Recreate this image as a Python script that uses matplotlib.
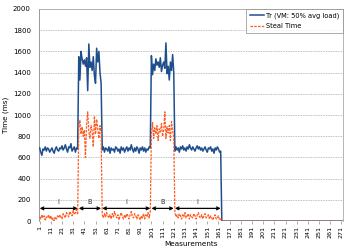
import matplotlib
matplotlib.use("Agg")
import matplotlib.pyplot as plt
import numpy as np

# Step 1: Data
# Tr (VM: 50% avg load), measurements 1..163, then flat at 0
tr_idle1 = [690, 650, 620, 680, 670, 700, 660, 690, 680, 650, 670, 690, 660, 640, 680, 700, 670, 660,
            690, 680, 710, 670, 690, 720, 680, 650, 700, 690, 730, 660, 680, 700, 650, 690, 680]
tr_busy1 = [1550, 1330, 1600, 1530, 1480, 1520, 1460, 1540, 1230, 1670, 1450, 1500, 1420, 1550,
            1370, 1300, 1630, 1500, 1600, 1400, 1300]
tr_idle2 = [670, 700, 650, 690, 680, 660, 700, 640, 690, 670, 680, 650, 700, 690, 660, 680, 640, 700,
            670, 690, 650, 680, 700, 660, 690, 670, 720, 680, 650, 690, 660, 700, 680, 640, 690, 670,
            700, 660, 690, 650, 680, 670, 700, 690]
tr_busy2 = [1560, 1380, 1480, 1420, 1530, 1470, 1500, 1450, 1540, 1410, 1470, 1500, 1440, 1680,
            1390, 1460, 1330, 1500, 1420, 1570, 1400]
tr_idle3 = [660, 700, 670, 690, 650, 700, 680, 710, 670, 690, 660, 700, 680, 720, 690, 670, 700, 680,
            660, 690, 710, 680, 700, 670, 690, 660, 680, 700, 670, 650, 690, 680, 700, 660, 680, 640,
            690, 670, 700, 680, 650, 660]
tr_tail = [0] * 109

# Steal Time
st_idle1 = [40, 20, 60, 30, 50, 10, 40, 30, 60, 20, 50, 10, 30, 0, 40, 20, 50, 30, 60, 40, 20, 70,
            50, 30, 80, 60, 40, 90, 70, 50, 100, 60, 80, 110, 60]
st_busy1 = [870, 950, 820, 890, 800, 860, 600, 910, 1030, 840, 780, 900, 850, 700, 990, 820, 960,
            870, 780, 900, 830]
st_idle2 = [60, 30, 70, 40, 80, 50, 30, 60, 20, 70, 40, 90, 50, 30, 60, 10, 50, 80, 40, 20, 60, 30,
            70, 50, 20, 60, 90, 40, 30, 70, 50, 20, 60, 40, 10, 50, 30, 70, 20, 60, 40, 80, 30, 90]
st_busy2 = [820, 930, 780, 880, 820, 900, 760, 870, 840, 920, 800, 860, 1030, 780, 890, 830, 900,
            760, 940, 850, 800]
st_idle3 = [80, 40, 60, 30, 70, 50, 20, 60, 40, 80, 30, 50, 70, 20, 60, 40, 30, 70, 50, 20, 60, 80,
            40, 30, 60, 20, 50, 70, 30, 40, 60, 20, 50, 30, 10, 40, 60, 20, 30, 50, 10, 20]
st_tail = [0] * 109

# Phase arrows: (start, end, label)
phase_starts = [1, 36, 57, 101, 122]
phase_ends = [35, 56, 100, 121, 163]
phase_labels = ["I", "B", "I", "B", "I"]

x_ticks = list(range(1, 272, 10))


# Step 2: Build series
def build_series():
    tr = tr_idle1 + tr_busy1 + tr_idle2 + tr_busy2 + tr_idle3 + tr_tail
    st = st_idle1 + st_busy1 + st_idle2 + st_busy2 + st_idle3 + st_tail
    x = np.arange(1, len(tr) + 1)
    return x, np.array(tr), np.array(st)


# Step 3: Plot
def main():
    x, tr, st = build_series()

    fig = plt.figure(figsize=(3.49, 2.49), dpi=100)
    ax = fig.add_axes([0.112, 0.112, 0.871, 0.852])

    ax.plot(x, tr, color="#1f4e8c", lw=1.1, label="Tr (VM: 50% avg load)", zorder=3)
    ax.plot(x, st, color="#ff5a1f", lw=0.9, ls=(0, (2, 1)), label="Steal Time", zorder=4)

    # phase arrows
    for s, e, lab in zip(phase_starts, phase_ends, phase_labels):
        ax.annotate("", xy=(s, 120), xytext=(e, 120),
                    arrowprops=dict(arrowstyle="<->", color="black", lw=0.9,
                                    mutation_scale=5, shrinkA=0, shrinkB=0), zorder=5)
        ax.text((s + e) / 2, 155, lab, ha="center", va="bottom", fontsize=4.8, color="#333333")

    ax.set_xlim(0.5, 272.5)
    ax.set_ylim(0, 2000)
    ax.set_yticks(range(0, 2001, 200))
    ax.set_xticks(x_ticks)
    ax.set_xticklabels([str(t) for t in x_ticks], rotation=90, fontsize=4.6)
    ax.tick_params(axis="y", labelsize=5, length=0, pad=6)
    ax.tick_params(axis="x", length=2, width=0.5, color="#888888", pad=1.5)

    ax.grid(axis="y", color="#aaaaaa", ls=(0, (1, 1)), lw=0.6)
    ax.set_axisbelow(True)
    for side in ["top", "right"]:
        ax.spines[side].set_color("#aaaaaa")
        ax.spines[side].set_linewidth(0.6)
    ax.spines["left"].set_color("#888888")
    ax.spines["left"].set_linewidth(0.6)
    ax.spines["bottom"].set_visible(False)

    ax.set_ylabel("Time (ms)", fontsize=5.2, labelpad=3)
    ax.set_xlabel("Measurements", fontsize=5.2, labelpad=2)

    leg = ax.legend(loc="upper right", fontsize=4.8, frameon=True, fancybox=False,
                    borderaxespad=0, handlelength=2.2, handletextpad=0.3,
                    borderpad=0.5, labelspacing=0.7)
    leg.get_frame().set_edgecolor("#888888")
    leg.get_frame().set_linewidth(0.6)

    fig.savefig("out.png", dpi=100)


# Run the code
if __name__ == "__main__":
    main()
